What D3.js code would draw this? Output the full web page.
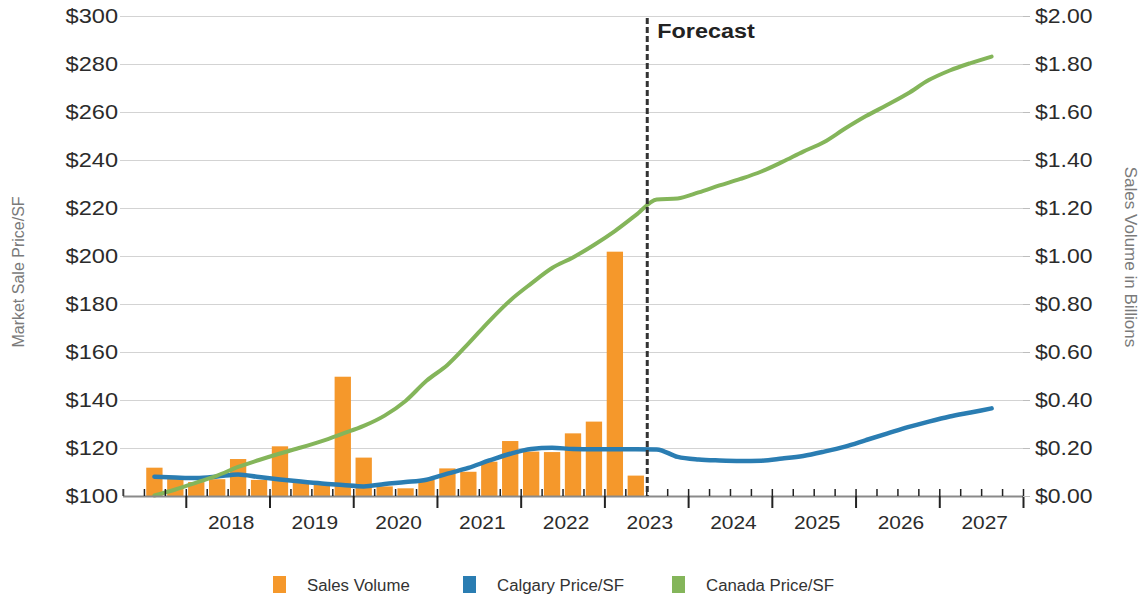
<!DOCTYPE html>
<html>
<head>
<meta charset="utf-8">
<script src="https://cdn.jsdelivr.net/npm/d3@7"></script>
<style>
  html, body { margin: 0; padding: 0; background: #fff; }
  svg { display: block; font-family: "Liberation Sans", Arial, sans-serif; }
</style>
</head>
<body>
<svg id="chart" width="1144" height="601"></svg>
<script>
// ---------------- DATA ----------------
const quarters = [
  "2017 Q3","2017 Q4",
  "2018 Q1","2018 Q2","2018 Q3","2018 Q4",
  "2019 Q1","2019 Q2","2019 Q3","2019 Q4",
  "2020 Q1","2020 Q2","2020 Q3","2020 Q4",
  "2021 Q1","2021 Q2","2021 Q3","2021 Q4",
  "2022 Q1","2022 Q2","2022 Q3","2022 Q4",
  "2023 Q1","2023 Q2","2023 Q3","2023 Q4",
  "2024 Q1","2024 Q2","2024 Q3","2024 Q4",
  "2025 Q1","2025 Q2","2025 Q3","2025 Q4",
  "2026 Q1","2026 Q2","2026 Q3","2026 Q4",
  "2027 Q1","2027 Q2","2027 Q3"
];
// Sales volume, $ billions (history only, 2017 Q3 - 2023 Q2)
const salesVolume = [
  0.118, 0.071,
  0.058, 0.070, 0.154, 0.067,
  0.207, 0.054, 0.050, 0.497,
  0.160, 0.040, 0.032, 0.067,
  0.115, 0.101, 0.143, 0.229,
  0.185, 0.183, 0.261, 0.310,
  1.018, 0.085
];
// Calgary market sale price per SF
const calgaryPrice = [
  108.0, 107.7,
  107.5, 108.1, 109.0, 107.9,
  106.9, 106.0, 105.2, 104.6,
  104.0, 105.0, 105.8, 106.8,
  109.3, 111.7, 114.8, 117.6,
  119.6, 120.1, 119.6, 119.5,
  119.5, 119.5, 119.4, 116.3,
  115.2, 114.8, 114.6, 114.7,
  115.6, 116.7, 118.5, 120.6,
  123.3, 126.0, 128.7, 131.0,
  133.1, 134.8, 136.5
];
// Canada market sale price per SF
const canadaPrice = [
  100.2, 102.7,
  105.6, 108.5, 112.1, 115.0,
  117.7, 120.2, 122.9, 126.0,
  129.2, 133.5, 139.6, 148.0,
  154.6, 163.5, 172.9, 181.5,
  188.5, 195.0, 199.4, 204.6,
  210.4, 217.0, 223.5, 224.0,
  226.5, 229.4, 232.1, 235.2,
  239.2, 243.5, 247.5, 253.1,
  258.3, 262.9, 267.7, 273.3,
  277.3, 280.4, 283.1
];
const leftTicks  = [100,120,140,160,180,200,220,240,260,280,300];
const rightTicks = [0,0.2,0.4,0.6,0.8,1.0,1.2,1.4,1.6,1.8,2.0];
const yearLabels = [2018,2019,2020,2021,2022,2023,2024,2025,2026,2027];
const forecastStart = "2023 Q3";
const legendItems = ["Sales Volume","Calgary Price/SF","Canada Price/SF"];
const seriesColors = ["#f5982b","#2a7db2","#84b55a"];

// ---------------- HELPERS ----------------
const qStart = s => { const [y,q] = s.split(" Q"); return +y + (+q - 1) * 0.25; };
function stretch(sel, k) {
  sel.each(function () {
    const l = this.getComputedTextLength();
    this.setAttribute("textLength", l * k);
    this.setAttribute("lengthAdjust", "spacingAndGlyphs");
  });
}

// ---------------- LAYOUT ----------------
const svg = d3.select("#chart");
const pL = 123, pR = 1023, pT = 16, pB = 496;
const x  = d3.scaleLinear().domain([2017.25, 2028]).range([pL, pR]);
const yL = d3.scaleLinear().domain([100, 300]).range([pB, pT]);
const yR = d3.scaleLinear().domain([0, 2]).range([pB, pT]);
const slot = x(2018.25) - x(2018);

// grid lines
svg.append("g").selectAll("line").data(leftTicks.slice(1)).join("line")
  .attr("x1", pL - 3).attr("x2", pR + 7)
  .attr("y1", d => Math.round(yL(d)) + 0.5).attr("y2", d => Math.round(yL(d)) + 0.5)
  .attr("stroke", "#d3d3d3").attr("stroke-width", 1.2);

// bars
svg.append("g").selectAll("rect").data(salesVolume).join("rect")
  .attr("x", (d, i) => x(qStart(quarters[i])) + slot * 0.11)
  .attr("width", slot * 0.78)
  .attr("y", d => yR(d))
  .attr("height", d => yR(0) - yR(d))
  .attr("fill", seriesColors[0]);

// lines
const line = d3.line()
  .x((d, i) => x(qStart(quarters[i]) + 0.125))
  .y(d => yL(d))
  .curve(d3.curveMonotoneX);
svg.append("path").datum(calgaryPrice).attr("d", line)
  .attr("fill", "none").attr("stroke", seriesColors[1]).attr("stroke-width", 4.5)
  .attr("stroke-linejoin", "round").attr("stroke-linecap", "round");
svg.append("path").datum(canadaPrice).attr("d", line)
  .attr("fill", "none").attr("stroke", seriesColors[2]).attr("stroke-width", 4)
  .attr("stroke-linejoin", "round").attr("stroke-linecap", "round");

// bottom axis line
svg.append("line").attr("x1", pL).attr("x2", pR + 1)
  .attr("y1", pB + 0.5).attr("y2", pB + 0.5)
  .attr("stroke", "#8a8a8a").attr("stroke-width", 2);

// minor (quarter) ticks, upward
const minorVals = d3.range(0, 44).map(i => 2017.25 + i * 0.25);
const minorAxis = svg.append("g").attr("transform", `translate(0,${pB})`)
  .call(d3.axisBottom(x).tickValues(minorVals).tickSize(-7).tickFormat(""));
minorAxis.select(".domain").remove();
minorAxis.selectAll("line").attr("stroke", "#222").attr("stroke-width", 1.5);

// major (year) ticks, downward
const majorVals = yearLabels.concat([2028]);
const majorAxis = svg.append("g").attr("transform", `translate(0,${pB})`)
  .call(d3.axisBottom(x).tickValues(majorVals).tickSize(12).tickFormat(""));
majorAxis.select(".domain").remove();
majorAxis.selectAll("line").attr("stroke", "#222").attr("stroke-width", 2);

// year labels centred in each year
const yearAxis = svg.append("g").attr("transform", `translate(3,${pB})`)
  .call(d3.axisBottom(x).tickValues(yearLabels.map(y => y + 0.5)).tickSize(0).tickPadding(19.5)
    .tickFormat(d => String(Math.floor(d))));
yearAxis.select(".domain").remove();
yearAxis.selectAll("text").attr("font-size", 19).attr("fill", "#2b2b2b")
  .attr("font-family", "Liberation Sans, Arial, sans-serif");
stretch(yearAxis.selectAll("text"), 1.1);

// left axis
const leftAxis = svg.append("g").attr("transform", `translate(${pL},0)`)
  .call(d3.axisLeft(yL).tickValues(leftTicks).tickSize(0).tickPadding(5).tickFormat(d => "$" + d));
leftAxis.select(".domain").remove();
leftAxis.selectAll("text").attr("font-size", 20.5).attr("fill", "#2b2b2b")
  .attr("font-family", "Liberation Sans, Arial, sans-serif");
stretch(leftAxis.selectAll("text"), 1.15);
svg.append("line").attr("x1", pL).attr("x2", pL).attr("y1", pB - 7).attr("y2", pB)
  .attr("stroke", "#555").attr("stroke-width", 1.2);

// right axis
const rightAxis = svg.append("g").attr("transform", `translate(${pR},0)`)
  .call(d3.axisRight(yR).tickValues(rightTicks).tickSize(7).tickPadding(5).tickFormat(d => "$" + d.toFixed(2)));
rightAxis.select(".domain").remove();
rightAxis.selectAll("line").attr("stroke", "#bdbdbd");
rightAxis.selectAll("text").attr("font-size", 20.5).attr("fill", "#2b2b2b")
  .attr("font-family", "Liberation Sans, Arial, sans-serif");
stretch(rightAxis.selectAll("text"), 1.12);

// axis titles
svg.append("text").attr("transform", "translate(24,272) rotate(-90)")
  .attr("text-anchor", "middle").attr("font-size", 16).attr("fill", "#7a7a7a")
  .text("Market Sale Price/SF");
svg.append("text").attr("transform", "translate(1125,257) rotate(90)")
  .attr("text-anchor", "middle").attr("font-size", 17).attr("fill", "#7a7a7a")
  .text("Sales Volume in Billions");

// forecast divider
const fx = x(qStart(forecastStart)) + 1;
svg.append("line").attr("x1", fx).attr("x2", fx).attr("y1", pT + 2).attr("y2", pB)
  .attr("stroke", "#333").attr("stroke-width", 3).attr("stroke-dasharray", "6,3");
const ft = svg.append("text").attr("x", fx + 10).attr("y", 38)
  .attr("font-size", 20).attr("font-weight", "bold").attr("fill", "#222").text("Forecast");
stretch(ft, 1.17);

// legend
const legendX = [273, 463, 672];
const lg = svg.append("g");
legendItems.forEach((name, i) => {
  lg.append("rect").attr("x", legendX[i]).attr("y", 576).attr("width", 13).attr("height", 17)
    .attr("fill", seriesColors[i]);
  const t = lg.append("text").attr("x", legendX[i] + 34).attr("y", 591)
    .attr("font-size", 16).attr("fill", "#333").text(name);
  stretch(t, 1.05);
});
</script>
</body>
</html>
